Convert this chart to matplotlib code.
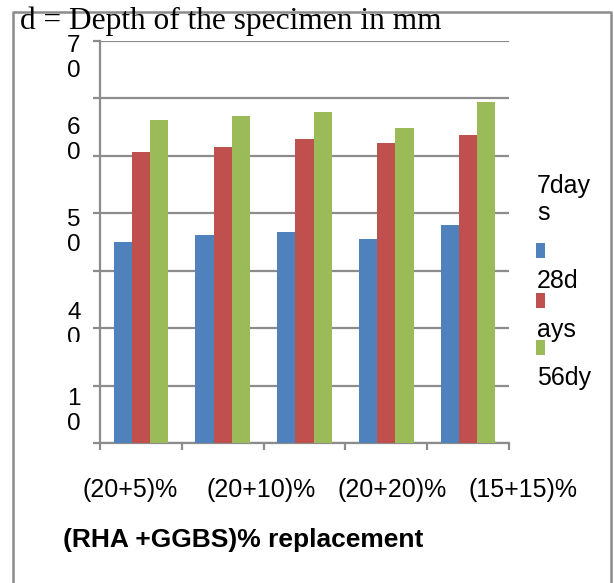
import matplotlib
matplotlib.use("Agg")
import matplotlib.pyplot as plt
import matplotlib.transforms as mtransforms
from matplotlib.patches import Rectangle
import numpy as np

# ---- data ----
groups = ["G1", "G2", "G3", "G4", "G5"]
series_names = ["7days", "28days", "56dy"]
days7 = [35.1, 36.3, 36.8, 35.6, 37.9]
days28 = [50.6, 51.6, 52.9, 52.2, 53.7]
days56 = [56.2, 57.0, 57.6, 54.9, 59.3]
colors = ["#4F81BD", "#C0504D", "#9BBB59"]
x_labels = ["(20+5)%", "(20+10)%", "(20+20)%", "(15+15)%"]
y_labels = ["7\n0", "6\n0", "5\n0", "4\n0", "1\n0"]
y_label_vals = [67.0, 52.7, 36.7, 20.5, 5.5]
legend_lines = ["7day", "s", "28d", "ays", "56dy"]
title = "d = Depth of the specimen in mm"
xlabel = "(RHA +GGBS)% replacement"

W, H = 614, 583
fig = plt.figure(figsize=(W / 100, H / 100), dpi=100)

def fy(py):
    return 1 - py / H

def fx(px):
    return px / W

grey = "#8C8C8C"
ax = fig.add_axes([fx(100), fy(443.3), fx(509) - fx(100), fy(41) - fy(443.3)])

x = np.arange(len(groups))
w = 0.223
for i, vals in enumerate([days7, days28, days56]):
    ax.bar(x + (i - 1) * w, vals, width=w, color=colors[i], zorder=3)

ax.set_xlim(-0.5, len(groups) - 0.5)
ax.set_ylim(0, 70)
ax.set_yticks(np.arange(0, 71, 10))
ax.set_xticks(np.arange(-0.5, len(groups), 1.0))
ax.set_yticklabels([])
ax.set_xticklabels([])
ax.yaxis.grid(True, color=grey, linewidth=1.6, zorder=0)
for s in ["top", "right"]:
    ax.spines[s].set_visible(False)
for s in ["left", "bottom"]:
    ax.spines[s].set_color(grey)
    ax.spines[s].set_linewidth(1.6)
ax.tick_params(axis="both", direction="out", length=5, width=1.6, color=grey)

# y tick labels (misplaced as in the original)
trans = mtransforms.blended_transform_factory(ax.transAxes, ax.transData)
clip_rect = Rectangle((0, fy(342)), 1, 1 - fy(342), transform=fig.transFigure,
                      facecolor="none", edgecolor="none")
fig.add_artist(clip_rect)
clip_rect.set_visible(False)
for lab, v in zip(y_labels, y_label_vals):
    t = ax.text(-0.064, v, lab, transform=trans, ha="center", va="center",
                fontsize=17.5, family="Liberation Sans", linespacing=1.15,
                clip_on=(lab == "4\n0"))
    if lab == "4\n0":
        t.set_clip_path(clip_rect)

# x labels
x_label_px = [130, 261.5, 392, 523.5]
for lab, px in zip(x_labels, x_label_px):
    fig.text(fx(px), fy(490), lab, ha="center", va="center", fontsize=18,
             family="Liberation Sans")

fig.text(fx(63), fy(540), xlabel, ha="left", va="center", fontsize=19,
         family="Liberation Sans", fontweight="bold")

fig.text(fx(20), fy(29), title, ha="left", va="baseline", fontsize=22.6,
         family="Liberation Serif")

# legend
leg_base = [193, 220, 288, 337, 385]
for lab, b in zip(legend_lines, leg_base):
    fig.text(fx(537), fy(b), lab, ha="left", va="baseline", fontsize=18,
             family="Liberation Sans")
for c, top in zip(colors, [243, 293, 340]):
    fig.add_artist(Rectangle((fx(536), fy(top + 15)), fx(9), 15 / H,
                             transform=fig.transFigure, facecolor=c,
                             edgecolor="none"))

# outer border
fig.add_artist(plt.Line2D([fx(13), fx(13), fx(611), fx(611)],
                          [0, fy(12), fy(12), 0], transform=fig.transFigure,
                          color=grey, linewidth=1.8))

fig.savefig("out.png", dpi=100)
